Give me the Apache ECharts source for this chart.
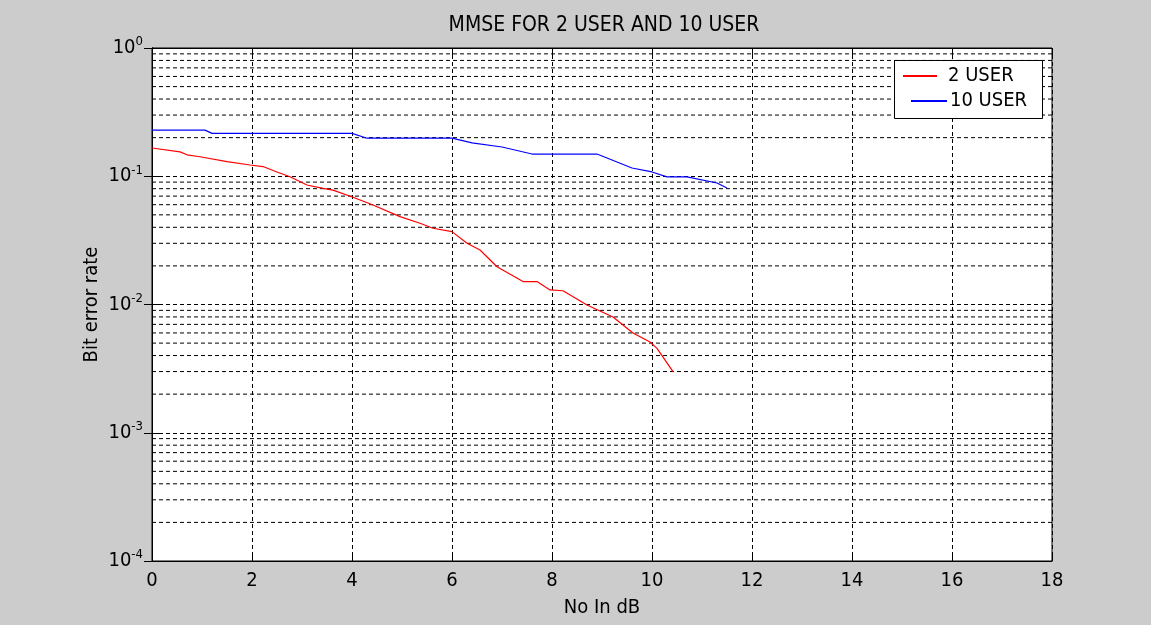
<!DOCTYPE html>
<html>
<head>
<meta charset="utf-8">
<script src="https://cdn.jsdelivr.net/npm/echarts@6/dist/echarts.min.js"></script>
<style>
html,body{margin:0;padding:0;background:#cccccc;}
#c{width:1151px;height:625px;}
</style>
</head>
<body>
<div id="c"></div>
<script>
// ---- data ----
const titleText = 'MMSE FOR 2 USER AND 10 USER';
const xName = 'No In dB';
const yName = 'Bit error rate';
const seriesNames = ['2 USER', '10 USER'];

const redX = [0, 0.56, 0.7, 0.96, 1.5, 1.96, 2.22, 2.5, 2.76, 3.1, 3.42, 3.62, 4.02, 4.42, 4.96, 5.36, 5.62, 6.0, 6.3, 6.56, 6.9, 7.42, 7.7, 7.96, 8.22, 8.7, 9.22, 9.62, 9.96, 10.1, 10.42];
const redY = [0.166, 0.155, 0.147, 0.142, 0.130, 0.1224, 0.119, 0.108, 0.099, 0.0855, 0.0805, 0.078, 0.0686, 0.0597, 0.0484, 0.043, 0.0393, 0.037, 0.030, 0.0266, 0.0197, 0.0151, 0.0151, 0.013, 0.0128, 0.0099, 0.008, 0.006, 0.0051, 0.00455, 0.003];

const blueX = [0, 1.06, 1.2, 4.0, 4.3, 6.0, 6.4, 7.0, 7.6, 8.9, 9.6, 10.0, 10.3, 10.7, 11.3, 11.5];
const blueY = [0.229, 0.229, 0.216, 0.216, 0.198, 0.198, 0.182, 0.169, 0.149, 0.149, 0.116, 0.108, 0.099, 0.099, 0.0886, 0.081];

const xMin = 0, xMax = 18, xStep = 2;
const yMin = 1e-4, yMax = 1;

// ---- chart ----
const FONT = '"Liberation Sans Narrow", "Arial Narrow", "DejaVu Sans Condensed", sans-serif';
const FS = 20;
const dash = [4, 3];

const pairs = (xs, ys) => xs.map((x, i) => [x, ys[i]]);

// minor log grid positions (2..9 x each decade), drawn as dashed horizontal series
const minorVals = [];
for (let e = Math.round(Math.log10(yMin)); e < Math.round(Math.log10(yMax)); e++) {
  for (let m = 2; m <= 9; m++) minorVals.push(parseFloat((m * Math.pow(10, e)).toPrecision(3)));
}
const minorSeries = minorVals.map(v => ({
  type: 'line', silent: true, symbol: 'none', showSymbol: false, z: 1,
  xAxisIndex: 0, yAxisIndex: 0, tooltip: { show: false },
  data: [[xMin, v], [xMax, v]],
  lineStyle: { color: '#000', type: dash, width: 1 },
  emphasis: { disabled: true }
}));

const chart = echarts.init(document.getElementById('c'), null, { renderer: 'canvas' });

const yLabel = {
  fontFamily: FONT,
  color: '#000',
  margin: 9,
  formatter: function (v) {
    const e = Math.round(Math.log10(v));
    return '{b|10}{s|' + e + '}';
  },
  rich: {
    b: { fontFamily: FONT, fontSize: FS, color: '#000', lineHeight: 24 },
    s: { fontFamily: FONT, fontSize: 13, color: '#000', padding: [0, 0, 12, 0] }
  }
};

const option = {
  backgroundColor: '#cccccc',
  animation: false,
  title: {
    text: titleText,
    left: 599, top: 10, textAlign: 'center',
    textStyle: { fontFamily: FONT, fontSize: 21, fontWeight: 'normal', color: '#000' }
  },
  legend: [
    {
      data: [seriesNames[0]], left: 903, top: 66, itemWidth: 34, itemHeight: 2,
      icon: 'rect', padding: 0, z: 20,
      textStyle: { fontFamily: FONT, fontSize: FS, color: '#000', padding: [0, 0, 0, 6] }
    },
    {
      data: [seriesNames[1]], left: 911, top: 91, itemWidth: 36, itemHeight: 2,
      icon: 'rect', padding: 0, z: 20,
      textStyle: { fontFamily: FONT, fontSize: FS, color: '#000', padding: [0, 0, 0, -2] }
    }
  ],
  graphic: [{
    type: 'rect', left: 894, top: 60, z: 5,
    shape: { width: 148, height: 58 },
    style: { fill: '#fff', stroke: '#000', lineWidth: 1 }
  }],
  grid: {
    left: 152, right: 99, top: 48, bottom: 64,
    show: true, backgroundColor: '#fff', borderColor: '#000', borderWidth: 1
  },
  xAxis: [
    {
      type: 'value', min: xMin, max: xMax, interval: xStep, position: 'bottom',
      name: xName, nameLocation: 'middle', nameGap: 37,
      nameTextStyle: { fontFamily: FONT, fontSize: FS, color: '#000' },
      axisLine: { show: true, lineStyle: { color: '#000', width: 1 } },
      axisTick: { show: true, inside: true, length: 8, lineStyle: { color: '#000' } },
      axisLabel: { fontFamily: FONT, fontSize: FS, color: '#000', margin: 10 },
      splitLine: { show: true, lineStyle: { color: '#000', type: dash, width: 1 } }
    },
    {
      type: 'value', min: xMin, max: xMax, interval: xStep, position: 'top',
      axisLine: { show: true, lineStyle: { color: '#000', width: 1 } },
      axisTick: { show: true, inside: true, length: 8, lineStyle: { color: '#000' } },
      axisLabel: { show: false },
      splitLine: { show: false }
    }
  ],
  yAxis: [
    {
      type: 'log', logBase: 10, min: yMin, max: yMax, position: 'left',
      name: yName, nameLocation: 'middle', nameGap: 50, nameRotate: 90,
      nameMoveOverlap: false,
      nameTextStyle: { fontFamily: FONT, fontSize: FS, color: '#000' },
      axisLine: { show: true, lineStyle: { color: '#000', width: 1 } },
      axisTick: { show: true, inside: true, length: 8, lineStyle: { color: '#000' } },
      axisLabel: yLabel,
      splitLine: { show: true, lineStyle: { color: '#000', type: dash, width: 1 } }
    },
    {
      type: 'log', logBase: 10, min: yMin, max: yMax, position: 'right',
      axisLine: { show: true, lineStyle: { color: '#000', width: 1 } },
      axisTick: { show: true, inside: true, length: 8, lineStyle: { color: '#000' } },
      axisLabel: { show: false },
      splitLine: { show: false }
    }
  ],
  series: minorSeries.concat([
    {
      name: seriesNames[0], type: 'line', xAxisIndex: 0, yAxisIndex: 0,
      data: pairs(redX, redY), showSymbol: false, symbol: 'none', z: 3,
      color: '#ff0000', lineStyle: { color: '#ff0000', width: 1.2 }
    },
    {
      name: seriesNames[1], type: 'line', xAxisIndex: 0, yAxisIndex: 0,
      data: pairs(blueX, blueY), showSymbol: false, symbol: 'none', z: 3,
      color: '#0000ff', lineStyle: { color: '#0000ff', width: 1.2 }
    }
  ])
};
chart.setOption(option);
</script>
</body>
</html>
